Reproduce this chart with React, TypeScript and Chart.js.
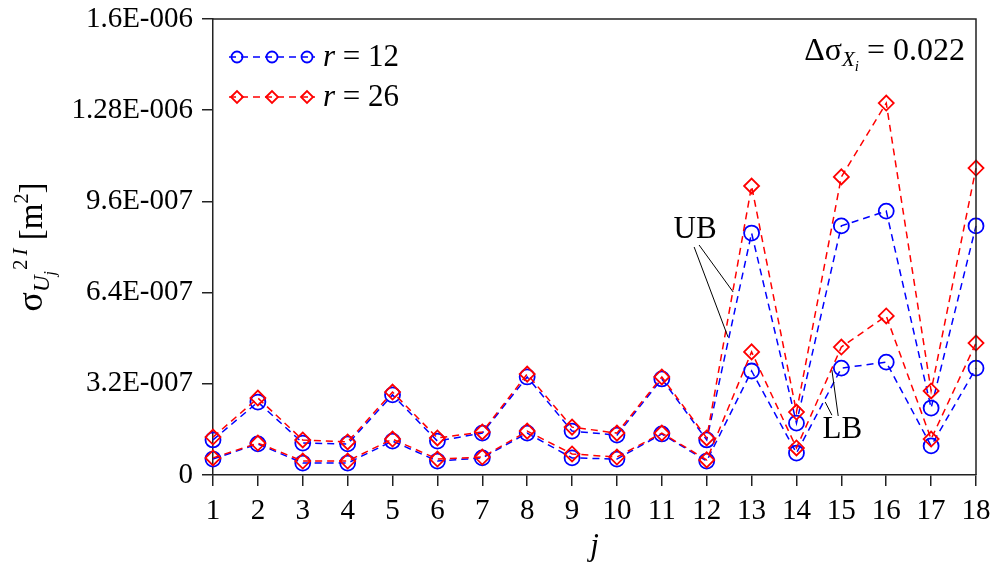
import React, { useEffect, useRef } from "react";
import { Chart, registerables } from "chart.js";

Chart.register(...registerables);

// ---------- data ----------
const categories = ["1", "2", "3", "4", "5", "6", "7", "8", "9", "10", "11", "12", "13", "14", "15", "16", "17", "18"];

const ubR12 = [1.23e-7, 2.56e-7, 1.12e-7, 1.09e-7, 2.81e-7, 1.19e-7, 1.47e-7, 3.44e-7, 1.54e-7, 1.40e-7, 3.37e-7, 1.23e-7, 8.49e-7, 1.82e-7, 8.74e-7, 9.26e-7, 2.35e-7, 8.74e-7];
const lbR12 = [0.56e-7, 1.09e-7, 0.42e-7, 0.42e-7, 1.19e-7, 0.49e-7, 0.60e-7, 1.47e-7, 0.60e-7, 0.56e-7, 1.44e-7, 0.49e-7, 3.65e-7, 0.77e-7, 3.75e-7, 3.96e-7, 1.02e-7, 3.75e-7];
const ubR26 = [1.33e-7, 2.70e-7, 1.23e-7, 1.16e-7, 2.91e-7, 1.30e-7, 1.51e-7, 3.54e-7, 1.68e-7, 1.47e-7, 3.44e-7, 1.30e-7, 10.14e-7, 2.21e-7, 10.46e-7, 13.05e-7, 2.95e-7, 10.77e-7];
const lbR26 = [0.60e-7, 1.12e-7, 0.49e-7, 0.49e-7, 1.26e-7, 0.56e-7, 0.63e-7, 1.54e-7, 0.74e-7, 0.63e-7, 1.47e-7, 0.53e-7, 4.32e-7, 0.95e-7, 4.49e-7, 5.58e-7, 1.26e-7, 4.63e-7];

const yTickValues = [0, 3.2e-7, 6.4e-7, 9.6e-7, 1.28e-6, 1.6e-6];
const yTickLabels = ["0", "3.2E-007", "6.4E-007", "9.6E-007", "1.28E-006", "1.6E-006"];

const legendLabels = ["12", "26"];

// annotation anchors in data units: [j, value]
const ubLabelAt: [number, number] = [11.74, 8.6e-7];
const ubLeaders: [number, number, number, number][] = [
  [11.72, 8.0e-7, 12.475, 4.84e-7],
  [11.83, 8.07e-7, 12.59, 6.42e-7],
];
const lbLabelAt: [number, number] = [15.02, 1.58e-7];
const lbLeaders: [number, number, number, number][] = [
  [14.93, 2.07e-7, 14.79, 3.68e-7],
  [14.79, 2.1e-7, 14.64, 2.56e-7],
];

// ---------- styles ----------
const FONT = '"Liberation Serif", "Times New Roman", serif';
const BLUE = "#0000ff";
const RED = "#ff0000";
const AXIS = "#222222";
const DASH = [7, 5];

type Seg = { t: string; size: number; italic?: boolean; dy?: number; gap?: number };

function segWidth(ctx: CanvasRenderingContext2D, segs: Seg[]) {
  let w = 0;
  for (const s of segs) {
    ctx.font = `${s.italic ? "italic " : ""}${s.size}px ${FONT}`;
    w += ctx.measureText(s.t).width + (s.gap || 0);
  }
  return w;
}

function drawRich(ctx: CanvasRenderingContext2D, segs: Seg[], x: number, y: number, align: "left" | "right" | "center") {
  const total = segWidth(ctx, segs);
  let cx = align === "right" ? x - total : align === "center" ? x - total / 2 : x;
  ctx.textAlign = "left";
  ctx.textBaseline = "alphabetic";
  for (const s of segs) {
    ctx.font = `${s.italic ? "italic " : ""}${s.size}px ${FONT}`;
    cx += s.gap || 0;
    ctx.fillText(s.t, cx, y + (s.dy || 0));
    cx += ctx.measureText(s.t).width;
  }
}

function drawMarker(ctx: CanvasRenderingContext2D, style: string, x: number, y: number, r: number) {
  ctx.beginPath();
  if (style === "circle") {
    ctx.arc(x, y, r, 0, Math.PI * 2);
  } else {
    ctx.moveTo(x - r, y);
    ctx.lineTo(x, y - r);
    ctx.lineTo(x + r, y);
    ctx.lineTo(x, y + r);
    ctx.closePath();
  }
  ctx.stroke();
}

const decorPlugin = {
  id: "decor",
  afterDraw(chart: any) {
    const ctx: CanvasRenderingContext2D = chart.ctx;
    const { left, right, top, bottom } = chart.chartArea;
    const xs = chart.scales.x;
    const ys = chart.scales.y;
    const px = (j: number) => xs.getPixelForValue(j - 1);
    const py = (v: number) => ys.getPixelForValue(v);

    ctx.save();
    // frame (top + right)
    ctx.strokeStyle = AXIS;
    ctx.lineWidth = 1.5;
    ctx.setLineDash([]);
    ctx.beginPath();
    ctx.moveTo(left, top);
    ctx.lineTo(right, top);
    ctx.lineTo(right, bottom);
    ctx.stroke();

    // legend
    const rows = [
      { color: BLUE, style: "circle", r: 5.5, label: legendLabels[0] },
      { color: RED, style: "diamond", r: 6, label: legendLabels[1] },
    ];
    rows.forEach((row, i) => {
      const y = top + 38 + i * 40;
      const x0 = left + 24;
      ctx.strokeStyle = row.color;
      ctx.lineWidth = 1.5;
      ctx.setLineDash(DASH);
      ctx.beginPath();
      ctx.moveTo(x0 - 8, y);
      ctx.lineTo(x0 + 78, y);
      ctx.stroke();
      ctx.setLineDash([]);
      ctx.lineWidth = 1.8;
      [0, 35, 70].forEach((dx) => drawMarker(ctx, row.style, x0 + dx, y, row.r));
      ctx.fillStyle = "#000";
      drawRich(
        ctx,
        [
          { t: "r", size: 31, italic: true },
          { t: " = " + row.label, size: 31 },
        ],
        x0 + 86,
        y + 9,
        "left"
      );
    });

    // top-right text
    ctx.fillStyle = "#000";
    drawRich(
      ctx,
      [
        { t: "\u0394\u03c3", size: 32 },
        { t: "X", size: 21, italic: true, dy: 6 },
        { t: "i", size: 15, italic: true, dy: 11 },
        { t: " = 0.022", size: 32 },
      ],
      right - 11,
      top + 41,
      "right"
    );

    // annotations
    ctx.strokeStyle = "#000";
    ctx.lineWidth = 1;
    ctx.setLineDash([]);
    for (const l of [...ubLeaders, ...lbLeaders]) {
      ctx.beginPath();
      ctx.moveTo(px(l[0]), py(l[1]));
      ctx.lineTo(px(l[2]), py(l[3]));
      ctx.stroke();
    }
    ctx.font = `31px ${FONT}`;
    ctx.textAlign = "center";
    ctx.textBaseline = "middle";
    ctx.fillText("UB", px(ubLabelAt[0]), py(ubLabelAt[1]));
    ctx.fillText("LB", px(lbLabelAt[0]), py(lbLabelAt[1]));

    // x title
    ctx.font = `italic 31px ${FONT}`;
    ctx.textAlign = "center";
    ctx.textBaseline = "alphabetic";
    ctx.fillText("j", (left + right) / 2, bottom + 80);

    // y title (rotated)
    ctx.save();
    ctx.translate(42, (top + bottom) / 2);
    ctx.rotate(-Math.PI / 2);
    drawRich(
      ctx,
      [
        { t: "\u03c3", size: 36 },
        { t: "U", size: 23, italic: true, dy: 7 },
        { t: "j", size: 16, italic: true, dy: 13 },
        { t: "2", size: 21, dy: -15, gap: 1 },
        { t: "I", size: 21, italic: true, dy: -15, gap: 4 },
        { t: " [m", size: 33 },
        { t: "2", size: 20, dy: -14 },
        { t: "]", size: 33 },
      ],
      0,
      0,
      "center"
    );
    ctx.restore();

    ctx.restore();
  },
};

export default function App() {
  const ref = useRef<HTMLCanvasElement | null>(null);

  useEffect(() => {
    if (!ref.current) return;
    const mk = (label: string, data: number[], color: string, style: string) => ({
      label,
      data,
      borderColor: color,
      backgroundColor: "transparent",
      borderWidth: 1.5,
      borderDash: DASH,
      pointStyle: style,
      pointRadius: 7.5,
      pointBorderWidth: 1.8,
      pointBorderColor: color,
      pointBackgroundColor: "transparent",
      tension: 0,
      fill: false,
    });
    const chart = new Chart(ref.current, {
      type: "line",
      data: {
        labels: categories,
        datasets: [
          mk("UB r=26", ubR26, RED, "rectRot"),
          mk("LB r=26", lbR26, RED, "rectRot"),
          mk("UB r=12", ubR12, BLUE, "circle"),
          mk("LB r=12", lbR12, BLUE, "circle"),
        ] as any,
      },
      options: {
        responsive: false,
        animation: false,
        events: [],
        layout: { padding: { left: 0, right: 20, top: 19, bottom: 0 } },
        plugins: {
          legend: { display: false },
          tooltip: { enabled: false },
          title: { display: false },
        },
        scales: {
          x: {
            type: "category",
            offset: false,
            grid: { drawOnChartArea: false, drawTicks: true, tickLength: 11, color: AXIS, lineWidth: 1.5 },
            border: { display: true, color: AXIS, width: 1.5 },
            ticks: { color: "#000", font: { family: FONT, size: 29, lineHeight: 1.55 }, padding: 3, maxRotation: 0, autoSkip: false },
            afterFit: (s: any) => {
              s.height = 94;
            },
          },
          y: {
            type: "linear",
            min: 0,
            max: 1.6e-6,
            afterBuildTicks: (s: any) => {
              s.ticks = yTickValues.map((v) => ({ value: v }));
            },
            grid: { drawOnChartArea: false, drawTicks: true, tickLength: 11, color: AXIS, lineWidth: 1.5 },
            border: { display: true, color: AXIS, width: 1.5 },
            ticks: {
              color: "#000",
              font: { family: FONT, size: 29, lineHeight: 0.6 },
              padding: 9,
              callback: (_v: any, i: number) => yTickLabels[i],
            },
            afterFit: (s: any) => {
              s.width = 213;
            },
          },
        },
      } as any,
      plugins: [decorPlugin],
    });
    return () => chart.destroy();
  }, []);

  return (
    <div style={{ position: "absolute", left: 0, top: 0, width: 996, height: 569, background: "#fff" }}>
      <canvas ref={ref} width={996} height={569} style={{ width: 996, height: 569, display: "block" }} />
    </div>
  );
}
